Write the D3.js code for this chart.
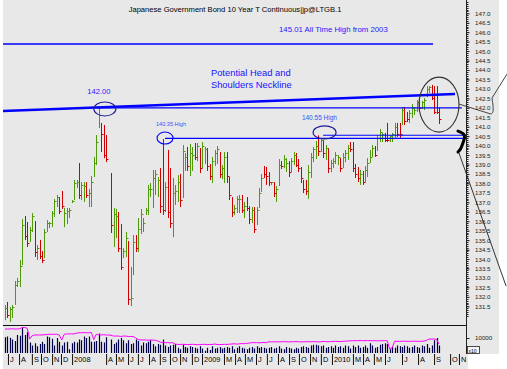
<!DOCTYPE html>
<html>
<head>
<meta charset="utf-8">
<script src="https://cdn.jsdelivr.net/npm/d3@7"></script>
<style>
body { margin: 0; background: #fff; }
svg { display: block; font-family: "Liberation Sans", Arial, sans-serif; }
</style>
</head>
<body>
<div id="chart"></div>
<script>
// weekly bars, Jul 2007 - Sep 2010 (null = missing week)
let opens = [130.9,131.6,130.8,131.0,131.7,132.6,132.7,133.9,136.1,135.8,
135.0,135.5,135.9,134.1,134.9,134.3,134.2,135.5,135.7,135.8,
136.3,136.8,137.2,137.5,135.8,135.9,136.2,137.0,137.2,137.8,
138.9,137.2,137.1,138.0,136.8,136.9,138.4,139.1,141.0,141.1,
141.0,140.4,null,138.4,134.8,135.2,136.4,135.7,134.1,134.2,
134.8,131.6,133.3,135.2,134.5,135.4,135.5,136.4,136.4,137.3,
136.8,137.5,137.3,138.7,140.2,136.6,139.6,138.7,135.3,136.9,
137.1,138.4,137.4,138.7,139.8,138.5,138.7,140.1,139.2,139.8,
138.9,139.1,139.8,139.0,138.1,139.0,139.1,139.6,138.3,138.1,
139.6,138.3,137.2,136.4,136.5,136.5,137.3,136.2,137.2,136.7,
136.0,136.7,135.9,136.8,137.6,138.9,138.8,138.5,137.95,138.0,
137.1,137.9,139.1,138.9,138.7,139.1,138.7,139.0,139.5,139.2,
138.8,138.1,138.1,137.3,138.4,139.2,139.3,140.4,139.7,140.2,
139.3,139.8,138.7,138.9,139.1,139.0,139.3,138.9,139.2,139.3,
140.1,140.1,139.0,138.8,138.0,138.6,138.1,138.4,139.1,139.45,
139.9,139.8,140.2,140.2,140.6,141.1,140.2,140.2,140.5,141.1,
141.1,141.2,141.9,141.7,141.3,141.5,141.7,141.8,142.4,142.0,
141.9,142.6,142.8,143.1,143.1,143.1,141.9];

let highs = [131.57,131.73,131.46,131.57,132.84,133.00,133.95,136.12,136.28,135.96,
135.69,136.43,136.01,134.74,135.01,134.42,135.59,136.06,135.96,136.54,
137.18,137.39,137.28,137.60,136.70,136.70,136.70,137.12,138.18,138.18,
139.08,138.07,138.07,138.07,137.70,138.39,139.40,140.56,142.04,141.20,
141.09,140.56,null,138.55,136.70,136.65,136.49,135.85,134.58,135.43,
134.95,133.58,135.27,135.27,136.17,136.65,136.17,136.70,137.92,138.02,
138.71,138.71,138.34,138.81,140.35,138.07,139.77,138.81,138.29,137.92,
138.44,138.50,140.03,139.61,139.93,140.09,139.93,140.14,140.14,139.87,
140.19,139.93,139.87,139.03,139.40,139.77,139.98,139.66,138.97,139.66,
139.66,138.34,137.28,136.86,137.33,137.39,137.39,137.02,137.28,136.80,
136.75,136.75,136.75,137.76,138.50,138.92,138.87,138.60,138.07,138.07,
137.86,139.29,139.18,139.50,139.34,139.18,139.34,139.66,139.61,139.29,
138.87,138.18,138.18,138.97,139.61,139.93,140.24,140.55,140.40,140.30,
140.03,139.87,139.24,139.34,139.66,139.50,139.34,139.61,139.77,140.03,
140.19,140.19,139.03,138.87,138.71,138.66,138.92,139.34,139.77,140.03,
139.98,140.56,140.88,140.67,140.67,141.20,140.56,140.67,141.20,141.20,
141.20,142.04,142.04,141.78,141.88,142.20,142.04,142.41,142.47,142.36,
142.52,143.15,143.15,143.21,143.15,143.15,141.99];

let lows = [130.77,130.88,130.67,130.88,131.57,132.52,132.52,133.68,135.01,134.64,
134.90,135.43,134.11,133.95,134.00,133.79,134.05,135.43,135.64,135.69,
136.22,136.75,136.38,136.65,135.69,135.85,136.17,136.96,137.12,137.76,
137.18,137.12,137.02,137.23,136.75,136.75,138.34,138.97,140.93,139.66,
139.34,139.13,null,135.38,134.64,135.11,134.37,133.42,134.05,134.11,
131.57,131.51,133.15,134.37,134.37,135.32,135.43,136.33,136.33,137.28,
136.70,137.39,137.28,136.43,136.33,136.49,136.17,135.64,135.16,136.86,
137.02,136.75,137.23,138.66,138.66,138.39,138.66,139.24,139.18,138.55,
138.81,139.03,138.66,138.18,138.02,138.92,139.03,138.29,138.23,138.02,
138.02,137.12,136.22,136.33,136.43,136.43,136.43,136.17,136.54,135.85,
135.90,135.38,135.80,136.70,137.55,138.29,137.92,137.86,137.92,137.28,
137.02,137.86,138.76,138.81,138.60,138.34,138.60,138.97,138.87,138.60,
138.02,137.49,137.39,137.18,138.29,139.13,139.29,139.45,139.66,139.34,
139.24,138.55,138.60,138.81,139.03,138.97,138.60,138.81,139.13,139.24,
139.66,138.60,138.29,138.07,137.92,137.92,138.07,138.34,139.08,139.40,
139.40,139.71,140.19,140.19,140.19,140.19,140.19,140.19,140.40,140.46,
140.40,141.09,141.09,141.25,141.20,141.46,141.62,141.78,141.83,141.94,
141.88,142.57,142.78,142.41,141.67,141.67,141.14];

let closes = [131.41,131.04,131.36,131.46,132.63,132.84,133.63,135.80,135.22,134.85,
135.53,136.28,134.37,134.58,134.16,133.95,135.43,135.90,135.90,136.43,
137.07,137.28,136.54,136.80,136.43,136.54,136.60,137.07,138.02,138.07,
137.40,137.90,137.85,137.40,137.50,138.10,139.10,140.20,141.60,140.60,
139.50,139.30,null,135.80,136.40,136.30,134.60,133.60,134.40,135.10,
131.90,131.95,134.90,134.60,135.60,136.40,135.90,136.60,137.70,137.70,
138.30,138.50,138.20,136.80,136.60,137.80,136.50,135.90,137.50,137.60,
138.10,137.10,139.70,139.40,138.90,139.60,139.50,139.40,140.00,138.80,
140.00,139.80,138.90,138.40,139.20,139.60,139.80,138.50,138.80,139.40,
138.40,137.40,136.50,136.70,137.20,137.20,136.60,136.80,136.70,136.10,
136.60,135.60,136.60,137.50,138.30,138.50,138.40,138.10,138.05,137.50,
137.70,139.00,138.90,139.30,139.10,138.60,139.20,139.50,139.00,138.80,
138.30,137.70,137.60,138.60,139.40,139.80,140.00,139.70,140.30,139.60,
139.90,138.80,139.10,139.20,139.50,139.40,138.80,139.40,139.60,139.90,
139.80,138.80,138.50,138.30,138.50,138.10,138.70,139.10,139.40,139.90,
139.50,140.40,140.70,140.60,140.30,140.30,140.50,140.60,141.00,140.60,
140.60,141.90,141.30,141.40,141.70,142.00,141.90,142.30,142.00,142.30,
142.40,143.00,143.10,142.50,141.80,141.80,141.40];

let volumes = [10500,11000,10200,9000,8000,12000,11500,17000,12000,14000,
7000,5000,6500,4500,6000,7500,6000,11000,10500,9500,
5000,10000,7500,5000,7000,7500,2500,6500,7500,7000,
9000,8500,11000,10000,11000,7500,7500,8000,13000,7500,
7000,10500,0,9000,6000,7000,9000,10000,8500,6500,
8500,6000,6500,9000,8000,5000,7000,6500,7500,8500,
6000,4500,6000,5500,9000,5000,4000,5000,5500,6000,
3500,2500,5500,4000,3500,4500,4000,3500,3000,4500,
3000,1500,3500,2000,4500,3000,3500,4000,3000,3500,
4000,3500,4500,2500,3500,4500,3500,3000,2500,3500,
4000,3000,4500,3500,4000,3500,3000,3500,4000,3000,
3500,4500,3000,2500,4000,3500,3000,2500,3500,3000,
4000,4500,4000,3500,5000,5500,5500,5000,4500,5000,
3500,4000,4500,3500,5000,4000,4500,3500,5000,4500,
3000,5000,4000,5000,3500,4000,5000,3500,6500,5000,
3500,4000,5500,6000,6500,6000,2500,4000,3500,5000,
4500,4000,5000,4500,3500,4000,5000,4000,3500,5000,
4500,6000,3500,5000,8500,10000,5000];

let openInt = [16000,16000,16000,16200,16000,16000,16200,17000,17000,16500,
9300,11500,12000,12000,12000,12000,12200,12300,12500,12500,
12400,12500,12000,8700,12500,12700,12700,12800,12700,13200,
13500,13500,13600,13500,13500,13700,9000,12500,12000,12000,
12200,12000,12000,11800,11300,11300,11300,11000,11300,11300,
11000,11000,11000,10000,9000,8700,8700,8700,8500,8700,
8600,8500,8000,7200,6900,6900,6900,6800,6900,6000,
5700,5700,5800,5700,5600,5700,5800,5700,5500,5700,
5700,5800,5600,5700,5700,6000,5700,5600,5700,5800,
5700,5900,6000,6200,5900,6100,6300,6200,6400,6600,
6900,6900,6900,6800,6900,7000,6900,7500,7400,7500,
7500,7400,7500,7600,7500,7400,7500,7500,7600,7500,
7400,7500,7500,7600,7500,7600,7500,7400,7500,7700,
7600,7500,7600,7700,7800,7700,7600,7800,7900,8000,
8100,8200,8200,8200,8300,8200,8200,8300,8200,8200,
8200,8100,8200,8200,8200,8200,2700,3500,7800,7800,
7800,7800,7900,7800,7800,7800,7900,7800,7800,7800,
8000,8500,9300,9300,9300,9000,6000];

// month labels and the bar position where each month starts
let monthLabels = ['J','A','S','O','N','D','2008','A','M','J','J','A','S','O','N','D','2009',
  'M','A','M','J','J','A','S','O','N','D','2010','M','A','M','J','J','A','S','O','N'];
let monthIdx = [1.2,5.7,10.9,14.6,19.1,22.7,27.2,41.0,45.0,49.9,53.9,58.4,62.8,66.9,71.0,75.8,79.9,
  88.8,93.3,97.3,101.8,106.2,110.7,115.2,119.2,123.7,128.1,132.6,141.1,145.2,149.6,154.1,161.0,167.5,174.0,180.5,184.1];

let priceTicks = [131.5,132.0,132.5,133.0,133.5,134.0,134.5,135.0,135.5,136.0,136.5,137.0,137.5,138.0,
  138.5,139.0,139.5,140.0,140.5,141.0,141.5,142.0,142.5,143.0,143.5,144.0,144.5,145.0,145.5,146.0,146.5,147.0];
let volTicks = [10000];

// annotations, in [bar, price]
let athLine = [[-0.8,145.38],[173.6,145.38]];
let neckline = [[-0.8,141.83],[182.5,142.73]];
let levelLines = [
  [[37.3,142.0],[185.3,142.0]],
  [[64.9,140.38],[187.3,140.38]],
  [[129,140.55],[187.3,140.55]]
];
let rings = [
  {i:40.5, p:141.94, rx:11, ry:7, col:'#1a1a99'},
  {i:64.9, p:140.40, rx:8, ry:6, col:'#0000ff'},
  {i:129.6, p:140.70, rx:11.5, ry:6.5, col:'#1a1a99'},
  {i:176, p:142.17, rx:20, ry:27.5, col:'#333333'}
];
let arrowPath = [[184.1,142.20],[197.1,141.67],[198.3,141.78],[197.5,142.52],[203.6,143.79]];
let bracePath = [[183.7,140.77],[187.0,140.61],[185.7,140.14],[184.9,139.82],[183.7,139.66]];
let pointerLine = [[184.1,139.61],[203.2,132.57]];

const green = '#4f9a0a', red = '#d00000', blue = '#0000ff';

let svg = d3.select('#chart').append('svg').attr('width', 507).attr('height', 369);

// gray backgrounds
svg.append('rect').attr('x', 3).attr('y', 0).attr('width', 496).attr('height', 354).attr('fill', '#e8e8e8');
svg.append('rect').attr('x', 3).attr('y', 354).attr('width', 465).attr('height', 15).attr('fill', '#e8e8e8');

let x = d3.scaleLinear().domain([0, highs.length - 1]).range([5, 439]);
let y = d3.scaleLinear().domain([131.5, 147]).range([306.3, 13.3]);
let yv = d3.scaleLinear().domain([0, 10000]).range([353, 338]);

let bars = highs.map((h, i) => ({i: i, o: opens[i], h: h, l: lows[i], c: closes[i], v: volumes[i], oi: openInt[i]}));
let px = d => Math.round(x(d.i)) + 0.5;

// title
svg.append('text').attr('x', 235).attr('y', 12).attr('text-anchor', 'middle')
  .attr('font-size', '7.6px').attr('fill', '#000')
  .text('Japanese Government Bond 10 Year T Continuous|jp@LTGB.1');

let line = d3.line().x(d => x(d[0])).y(d => y(d[1]));

// price bars
let pg = svg.append('g');
let valid = bars.filter(d => d.h != null);
pg.selectAll('line.hl').data(valid).join('line').attr('class', 'hl')
  .attr('x1', px).attr('x2', px)
  .attr('y1', d => y(d.h)).attr('y2', d => y(d.l))
  .attr('stroke', d => d.c >= d.o ? green : red).attr('stroke-width', 1);
pg.selectAll('line.cl').data(valid).join('line').attr('class', 'cl')
  .attr('x1', px).attr('x2', d => px(d) + 2)
  .attr('y1', d => Math.round(y(d.c)) + 0.5).attr('y2', d => Math.round(y(d.c)) + 0.5)
  .attr('stroke', d => d.c >= d.o ? green : red).attr('stroke-width', 1);

// annotation lines
svg.append('path').attr('d', line(athLine)).attr('fill', 'none').attr('stroke', blue).attr('stroke-width', 1.5);
svg.append('path').attr('d', line(neckline)).attr('fill', 'none').attr('stroke', blue).attr('stroke-width', 2.6);
svg.selectAll('path.lvl').data(levelLines).join('path').attr('class', 'lvl')
  .attr('d', line).attr('fill', 'none').attr('stroke', blue).attr('stroke-width', 1.2);

svg.selectAll('ellipse').data(rings).join('ellipse')
  .attr('cx', d => x(d.i)).attr('cy', d => y(d.p))
  .attr('rx', d => d.rx).attr('ry', d => d.ry)
  .attr('fill', 'none').attr('stroke', d => d.col).attr('stroke-width', 1.1);

let curve = d3.line().x(d => x(d[0])).y(d => y(d[1])).curve(d3.curveBasis);
svg.append('path').attr('d', line(arrowPath.slice(0, 2)) + curve(arrowPath.slice(1, 4)).replace('M', 'L') + 'L' + x(arrowPath[4][0]) + ',' + y(arrowPath[4][1]))
  .attr('fill', 'none').attr('stroke', '#444').attr('stroke-width', 1);
svg.append('path').attr('d', curve(bracePath)).attr('fill', 'none').attr('stroke', '#000').attr('stroke-width', 3).attr('stroke-linecap', 'round');
svg.append('path').attr('d', line(pointerLine)).attr('fill', 'none').attr('stroke', '#333').attr('stroke-width', 1);

// annotation texts
let notes = [
  {t: '145.01 All Time High from 2003', i: 111.1, p: 146.01, fs: 7.8, a: 'start', col: '#2222ff'},
  {t: 'Potential Head and', i: 83.5, p: 143.68, fs: 9.4, a: 'start', col: '#1515ff'},
  {t: 'Shoulders Neckline', i: 83.5, p: 143.07, fs: 9.4, a: 'start', col: '#1515ff'},
  {t: '142.00', i: 38.1, p: 142.73, fs: 7.6, a: 'middle', col: '#2222ff'},
  {t: '140.35 High', i: 61.2, p: 141.04, fs: 5.6, a: 'start', col: '#3355ff'},
  {t: '140.55 High', i: 120.4, p: 141.35, fs: 6.5, a: 'start', col: '#3355ff'}
];
svg.selectAll('text.note').data(notes).join('text').attr('class', 'note')
  .attr('x', d => x(d.i)).attr('y', d => y(d.p))
  .attr('text-anchor', d => d.a).attr('font-size', d => d.fs + 'px').attr('fill', d => d.col)
  .text(d => d.t);

// panel separator
svg.append('line').attr('x1', 3).attr('x2', 467).attr('y1', 325.5).attr('y2', 325.5).attr('stroke', '#111').attr('stroke-width', 1.2);

// volume bars + open interest
svg.append('g').selectAll('line').data(bars.filter(d => d.v > 0)).join('line')
  .attr('x1', px).attr('x2', px)
  .attr('y1', yv(0)).attr('y2', d => yv(d.v))
  .attr('stroke', '#00004a').attr('stroke-width', 1.2);
svg.append('path').datum(bars)
  .attr('d', d3.line().x(d => x(d.i)).y(d => yv(d.oi)))
  .attr('fill', 'none').attr('stroke', '#ff00ff').attr('stroke-width', 1);

// right axis
svg.append('line').attr('x1', 466.5).attr('x2', 466.5).attr('y1', 0).attr('y2', 354).attr('stroke', '#222');
svg.append('g').selectAll('line').data(d3.range(1310, 1477).map(d => d / 10)).join('line')
  .attr('x1', 466.5).attr('x2', 468.5)
  .attr('y1', d => Math.round(y(d)) + 0.5).attr('y2', d => Math.round(y(d)) + 0.5)
  .attr('stroke', '#222');
let ag = svg.append('g').attr('transform', 'translate(466,0)')
  .call(d3.axisRight(y).tickValues(priceTicks).tickFormat(d3.format('.1f')).tickSize(3.5).tickPadding(5.5).tickSizeOuter(0));
ag.select('.domain').remove();
ag.selectAll('line').attr('stroke', '#222');
ag.selectAll('text').attr('font-size', '6.2px').attr('fill', '#222').attr('font-family', '"Liberation Sans", Arial, sans-serif');

let vg = svg.append('g').attr('transform', 'translate(466,0)')
  .call(d3.axisRight(yv).tickValues(volTicks).tickFormat(d3.format('d')).tickSize(3.5).tickPadding(5.5).tickSizeOuter(0));
vg.select('.domain').remove();
vg.selectAll('line').attr('stroke', '#222');
vg.selectAll('text').attr('font-size', '6.2px').attr('fill', '#222').attr('font-family', '"Liberation Sans", Arial, sans-serif');

svg.append('rect').attr('x', 467.5).attr('y', 346.5).attr('width', 12).attr('height', 7).attr('fill', '#f4f4f4').attr('stroke', '#222').attr('stroke-width', 0.8);
svg.append('text').attr('x', 468.5).attr('y', 352.5).attr('font-size', '5px').attr('fill', '#000').text('x10');

// month axis
let xg = svg.append('g').attr('transform', 'translate(0,354)')
  .call(d3.axisBottom(x).tickValues(monthIdx).tickFormat((d, i) => monthLabels[i]).tickSize(11).tickSizeOuter(0));
xg.select('.domain').remove();
xg.selectAll('line').attr('stroke', '#111');
xg.selectAll('text').attr('text-anchor', 'start').attr('x', 1.5).attr('y', 3).attr('dy', '0.71em')
  .attr('font-size', '7.4px').attr('fill', '#000').attr('font-family', '"Liberation Sans", Arial, sans-serif');
</script>
</body>
</html>
